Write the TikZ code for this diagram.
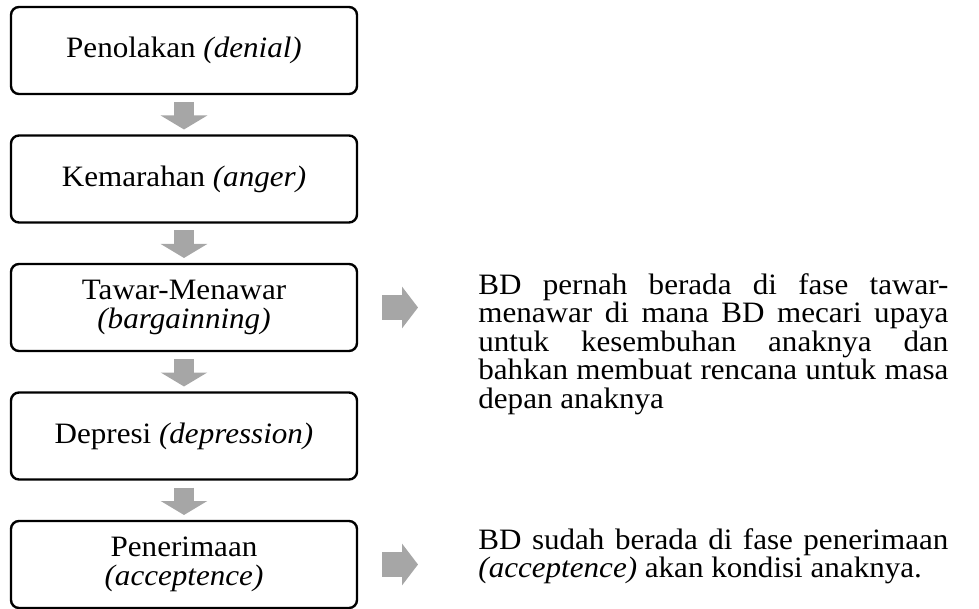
\documentclass[tikz,border=0pt]{standalone}
\usepackage{fontspec}
\setmainfont{Liberation Serif}[FakeStretch=1.05]
\usetikzlibrary{positioning,arrows.meta}
\definecolor{abu}{HTML}{A6A6A6}
\hbadness=10000

\begin{document}
\begin{tikzpicture}[x=0.5pt,y=-0.5pt,
  font=\fontsize{14.8}{14.25}\selectfont,
  tahap/.style={draw,line width=1.2pt,rounded corners=4pt,minimum width=173pt,
    minimum height=43.5pt,align=center,inner sep=2pt,outer sep=0pt},
  turun/.style={abu,line width=10pt,-{Triangle[width=23pt,length=7pt]}},
  kanan/.style={abu,line width=12.5pt,-{Triangle[width=20.5pt,length=8pt]}},
  ket/.style={text width=235pt,align=justify,inner sep=0pt,anchor=north west}]
\useasboundingbox (0,0) rectangle (979,609);

\def\gap{20.75pt}

\node[tahap] (a) at (184,50.5) {Penolakan \textit{(denial)}};
\node[tahap, below=\gap of a] (b) {Kemarahan \textit{(anger)}};
\node[tahap, below=\gap of b] (c) {Tawar-Menawar\\\textit{(bargainning)}};
\node[tahap, below=\gap of c] (d) {Depresi \textit{(depression)}};
\node[tahap, below=\gap of d] (e) {Penerimaan\\\textit{(acceptence)}};

\draw[turun] ([yshift=-4pt]a.south) -- ([yshift=3pt]b.north);
\draw[turun] ([yshift=-4pt]b.south) -- ([yshift=3pt]c.north);
\draw[turun] ([yshift=-4pt]c.south) -- ([yshift=3pt]d.north);
\draw[turun] ([yshift=-4pt]d.south) -- ([yshift=3pt]e.north);

\draw[kanan] ([xshift=12.5pt]c.east) -- ([xshift=30.5pt]c.east);
\draw[kanan] ([xshift=12.5pt]e.east) -- ([xshift=30.5pt]e.east);

\node[ket] (cc) at (478,273) {BD pernah berada di fase tawar-\linebreak
  menawar di mana BD mecari upaya\linebreak
  untuk kesembuhan anaknya dan\linebreak
  bahkan membuat rencana untuk masa\linebreak
  depan anaknya};
\node[ket] (ee) at (478,528) {BD sudah berada di fase penerimaan\linebreak
  \textit{(acceptence)} akan kondisi anaknya.};

\end{tikzpicture}
\end{document}
